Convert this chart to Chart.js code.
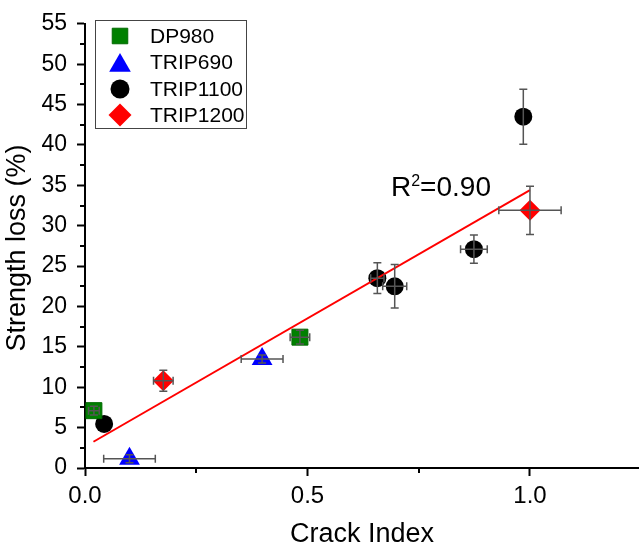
<!DOCTYPE html>
<html>
<head>
<meta charset="utf-8">
<script src="https://cdn.jsdelivr.net/npm/chart.js@4"></script>
<style>
  html, body { margin: 0; padding: 0; background: #fff; }
  canvas { display: block; }
</style>
</head>
<body>
<canvas id="chart" width="639" height="551"></canvas>
<script>
// values
const seriesNames = ['DP980', 'TRIP690', 'TRIP1100', 'TRIP1200'];

const dp980X = [0.02, 0.483];
const dp980Y = [7.1, 16.2];
const dp980XErr = [0.012, 0.022];
const dp980YErr = [0.55, 0.85];

const trip690X = [0.10, 0.398];
const trip690Y = [1.15, 13.5];
const trip690XErr = [0.058, 0.047];
const trip690YErr = [0.5, 0.5];

const trip1100X = [0.043, 0.657, 0.696, 0.874, 0.985];
const trip1100Y = [5.45, 23.5, 22.5, 27.1, 43.5];
const trip1100XErr = [0, 0.015, 0.027, 0.03, 0];
const trip1100YErr = [0, 1.9, 2.7, 1.75, 3.4];

const trip1200X = [0.176, 1.0];
const trip1200Y = [10.8, 31.9];
const trip1200XErr = [0.022, 0.07];
const trip1200YErr = [1.3, 3.0];

const fitX = [0.019, 1.0];
const fitY = [3.25, 34.4];
const fitLabel = '0.90';

const xTicks = [0, 0.5, 1.0];
const xMinorTicks = [0.25, 0.75];
const yTicks = [0, 5, 10, 15, 20, 25, 30, 35, 40, 45, 50, 55];
const yMinorTicks = [2.5, 7.5, 12.5, 17.5, 22.5, 27.5, 32.5, 37.5, 42.5, 47.5, 52.5];

const xTitle = 'Crack Index';
const yTitle = 'Strength loss (%)';

const FONT = "'Liberation Sans', Arial, sans-serif";

function toPoints(xs, ys, xe, ye) {
  return xs.map((x, i) => ({ x: x, y: ys[i], xErr: xe ? xe[i] : 0, yErr: ye ? ye[i] : 0 }));
}

const markerStyles = [
  { style: 'rect', color: '#008000', border: '#006a00', radius: 11.3, legendRadius: 11 },
  { style: 'triangle', color: '#0000ff', border: '#0000ff', radius: 12, legendRadius: 12.5 },
  { style: 'circle', color: '#000000', border: '#000000', radius: 9, legendRadius: 9.5 },
  { style: 'rectRot', color: '#ff0000', border: '#ff0000', radius: 10.5, legendRadius: 11.5 }
];

const seriesData = [
  toPoints(dp980X, dp980Y, dp980XErr, dp980YErr),
  toPoints(trip690X, trip690Y, trip690XErr, trip690YErr),
  toPoints(trip1100X, trip1100Y, trip1100XErr, trip1100YErr),
  toPoints(trip1200X, trip1200Y, trip1200XErr, trip1200YErr)
];

function drawMarker(ctx, style, x, y, r, fill, stroke) {
  ctx.save();
  ctx.fillStyle = fill;
  ctx.strokeStyle = stroke;
  ctx.lineWidth = 1;
  ctx.beginPath();
  if (style === 'rect') {
    const s = r * Math.SQRT1_2;
    ctx.rect(x - s, y - s, 2 * s, 2 * s);
  } else if (style === 'triangle') {
    ctx.moveTo(x, y - r);
    ctx.lineTo(x + r * 0.866, y + r * 0.5);
    ctx.lineTo(x - r * 0.866, y + r * 0.5);
    ctx.closePath();
  } else if (style === 'rectRot') {
    ctx.moveTo(x, y - r);
    ctx.lineTo(x + r, y);
    ctx.lineTo(x, y + r);
    ctx.lineTo(x - r, y);
    ctx.closePath();
  } else {
    ctx.arc(x, y, r, 0, Math.PI * 2);
  }
  ctx.fill();
  if (style === 'rect') ctx.stroke();
  ctx.restore();
}

// error bars on top of the markers
const errorBars = {
  id: 'errorBars',
  afterDatasetsDraw(chart) {
    const ctx = chart.ctx;
    const xs = chart.scales.x;
    const ys = chart.scales.y;
    const cap = 4;
    ctx.save();
    ctx.strokeStyle = '#555';
    ctx.lineWidth = 1.5;
    chart.data.datasets.forEach((ds) => {
      if (!ds.isSeries) return;
      ds.data.forEach((p) => {
        const px = xs.getPixelForValue(p.x);
        const py = ys.getPixelForValue(p.y);
        ctx.beginPath();
        if (p.yErr > 0) {
          const t = ys.getPixelForValue(p.y + p.yErr);
          const b = ys.getPixelForValue(p.y - p.yErr);
          ctx.moveTo(px, t); ctx.lineTo(px, b);
          ctx.moveTo(px - cap, t); ctx.lineTo(px + cap, t);
          ctx.moveTo(px - cap, b); ctx.lineTo(px + cap, b);
        }
        if (p.xErr > 0) {
          const l = xs.getPixelForValue(p.x - p.xErr);
          const r = xs.getPixelForValue(p.x + p.xErr);
          ctx.moveTo(l, py); ctx.lineTo(r, py);
          ctx.moveTo(l, py - cap); ctx.lineTo(l, py + cap);
          ctx.moveTo(r, py - cap); ctx.lineTo(r, py + cap);
        }
        ctx.stroke();
      });
    });
    ctx.restore();
  }
};

// minor ticks, y title, legend box and R^2 label
const extras = {
  id: 'extras',
  afterDraw(chart) {
    const ctx = chart.ctx;
    const xs = chart.scales.x;
    const ys = chart.scales.y;
    const area = chart.chartArea;
    ctx.save();
    ctx.strokeStyle = '#000';
    ctx.lineWidth = 2;
    ctx.beginPath();
    xMinorTicks.forEach((v) => {
      const px = Math.round(xs.getPixelForValue(v));
      ctx.moveTo(px, area.bottom); ctx.lineTo(px, area.bottom + 5);
    });
    yMinorTicks.forEach((v) => {
      const py = Math.round(ys.getPixelForValue(v));
      ctx.moveTo(area.left, py); ctx.lineTo(area.left - 5, py);
    });
    ctx.stroke();

    // y axis title
    ctx.save();
    ctx.translate(18, 248);
    ctx.rotate(-Math.PI / 2);
    ctx.font = '27px ' + FONT;
    ctx.fillStyle = '#000';
    ctx.textAlign = 'center';
    ctx.textBaseline = 'middle';
    ctx.fillText(yTitle, 0, 0);
    ctx.restore();

    // legend
    ctx.strokeStyle = '#444';
    ctx.lineWidth = 1;
    ctx.strokeRect(95.5, 20.5, 151, 108);
    ctx.font = '21px ' + FONT;
    ctx.fillStyle = '#000';
    ctx.textBaseline = 'middle';
    ctx.textAlign = 'left';
    const rows = [36, 62.5, 89, 115];
    seriesNames.forEach((name, i) => {
      const m = markerStyles[i];
      drawMarker(ctx, m.style, 120, rows[i] + (m.style === 'triangle' ? 3 : 0), m.legendRadius, m.color, m.border);
      ctx.fillStyle = '#000';
      ctx.fillText(name, 150, rows[i] + 1);
    });

    // R^2 text
    ctx.textBaseline = 'alphabetic';
    ctx.font = '28px ' + FONT;
    let tx = 391;
    const base = 196;
    ctx.fillText('R', tx, base);
    tx += ctx.measureText('R').width;
    ctx.font = '16px ' + FONT;
    ctx.fillText('2', tx, base - 10);
    tx += ctx.measureText('2').width;
    ctx.font = '28px ' + FONT;
    ctx.fillText('=' + fitLabel, tx, base);
    ctx.restore();
  }
};

const datasets = [
  {
    type: 'line',
    label: 'fit',
    data: fitX.map((x, i) => ({ x: x, y: fitY[i] })),
    borderColor: '#ff0000',
    borderWidth: 2,
    pointRadius: 0,
    fill: false,
    order: 0,
    clip: false
  }
];
seriesNames.forEach((name, i) => {
  const m = markerStyles[i];
  datasets.push({
    type: 'scatter',
    label: name,
    isSeries: true,
    data: seriesData[i],
    pointStyle: m.style,
    pointRadius: m.radius,
    pointHoverRadius: m.radius,
    backgroundColor: m.color,
    borderColor: m.border,
    borderWidth: m.style === 'rect' ? 1 : 0,
    order: 1,
    clip: false
  });
});

new Chart(document.getElementById('chart'), {
  data: { datasets: datasets },
  options: {
    responsive: false,
    animation: false,
    events: [],
    layout: { autoPadding: false, padding: { top: 20, right: 0, left: 0, bottom: 0 } },
    plugins: {
      legend: { display: false },
      tooltip: { enabled: false }
    },
    scales: {
      x: {
        type: 'linear',
        min: 0,
        max: 1.245,
        afterBuildTicks: (s) => { s.ticks = xTicks.map((v) => ({ value: v })); },
        afterFit: (s) => { s.height = 83; s.paddingLeft = 0; s.paddingRight = 0; },
        border: { display: true, color: '#000', width: 2 },
        grid: { drawOnChartArea: false, drawTicks: true, tickLength: 8, tickWidth: 2, tickColor: '#000' },
        ticks: {
          color: '#000',
          padding: 6,
          font: { family: FONT, size: 24 },
          callback: (v) => v.toFixed(1)
        },
        title: {
          display: true,
          text: xTitle,
          color: '#000',
          font: { family: FONT, size: 27 },
          padding: { top: 0, bottom: 0 }
        }
      },
      y: {
        type: 'linear',
        min: 0,
        max: 55,
        afterBuildTicks: (s) => { s.ticks = yTicks.map((v) => ({ value: v })); },
        afterFit: (s) => { s.width = 85; },
        border: { display: true, color: '#000', width: 2 },
        grid: { drawOnChartArea: false, drawTicks: true, tickLength: 8, tickWidth: 2, tickColor: '#000' },
        ticks: {
          color: '#000',
          padding: 10,
          font: { family: FONT, size: 23 }
        }
      }
    }
  },
  plugins: [errorBars, extras]
});
</script>
</body>
</html>
